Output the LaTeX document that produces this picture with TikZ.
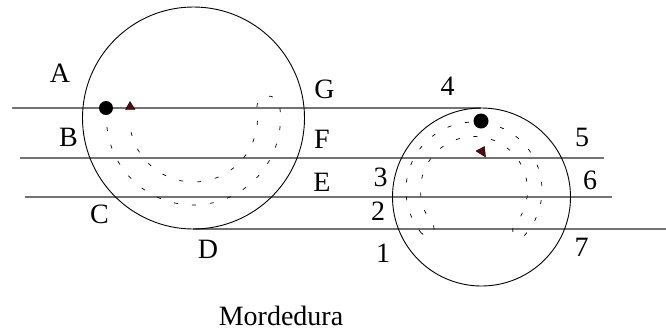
\documentclass[tikz,border=0pt]{standalone}
\usepackage{fontspec}
\setmainfont{Liberation Serif}
\definecolor{linegray}{RGB}{115,115,115}
\definecolor{tridark}{RGB}{85,10,10}
\begin{document}
\begin{tikzpicture}[x=1pt,y=-1pt,
  lab/.style={font=\fontsize{28}{32}\selectfont, inner sep=0pt},
  hline/.style={draw=linegray, line width=1.3pt},
  ring/.style={draw=black, line width=0.9pt},
  trail/.style={draw=black, line width=0.7pt, dash pattern=on 4pt off 14pt},
  tri/.style={fill=tridark, draw=black, line width=0.4pt}]
\useasboundingbox (0,0) rectangle (666,333);
% horizontal lines
\coordinate (l1a) at (12,108);  \coordinate (l1b) at (481,108);
\coordinate (l2a) at (20,158);  \coordinate (l2b) at (604,158);
\coordinate (l3a) at (25,197);  \coordinate (l3b) at (612,197);
\coordinate (l4a) at (193,229); \coordinate (l4b) at (666,229);
\draw[hline] (l1a) -- (l1b);
\draw[hline] (l2a) -- (l2b);
\draw[hline] (l3a) -- (l3b);
\draw[hline] (l4a) -- (l4b);
% circles
\coordinate (bigc) at (193.5,118);
\coordinate (smc) at (481.5,197);
\draw[ring] (bigc) circle[radius=111];
\draw[ring] (smc) circle[radius=89];
% dashed trails
\draw[trail] (bigc) ++(174:87) arc[start angle=174, end angle=-8, radius=87]
  arc[start angle=-8, end angle=-188, radius=11.5]
  arc[start angle=-8, end angle=174, radius=64];
\coordinate (smt) at (474,190);
\draw[trail] (smt) ++(141:68) arc[start angle=141, end angle=401, radius=68]
  arc[start angle=41, end angle=221, radius=7.25]
  arc[start angle=401, end angle=141, radius=53.5]
  arc[start angle=321, end angle=501, radius=7.25];
% dots and triangles
\fill (106,108) circle[radius=7];
\fill (481,121) circle[radius=7.5];
\draw[tri] (125.5,109.5) -- (135,109.5) -- (130,101.5) -- cycle;
\draw[tri] (476,151) -- (484.5,146.5) -- (485.5,157) -- cycle;
% labels
\node[lab] (A) at (60,73) {A};
\node[lab] (B) at (68.5,137.5) {B};
\node[lab] (C) at (99.5,214) {C};
\node[lab] (D) at (208,249) {D};
\node[lab] (G) at (324.5,89) {G};
\node[lab] (F) at (322,139) {F};
\node[lab] (E) at (322,182.5) {E};
\node[lab] (n3) at (380.5,177.5) {3};
\node[lab] (n2) at (378,211) {2};
\node[lab] (n1) at (383,253) {1};
\node[lab] (n4) at (447.5,86) {4};
\node[lab] (n5) at (582,137) {5};
\node[lab] (n6) at (590,180) {6};
\node[lab] (n7) at (581.5,247.5) {7};
\node[lab, anchor=base] (title) at (281,325) {Mordedura};
\end{tikzpicture}
\end{document}
